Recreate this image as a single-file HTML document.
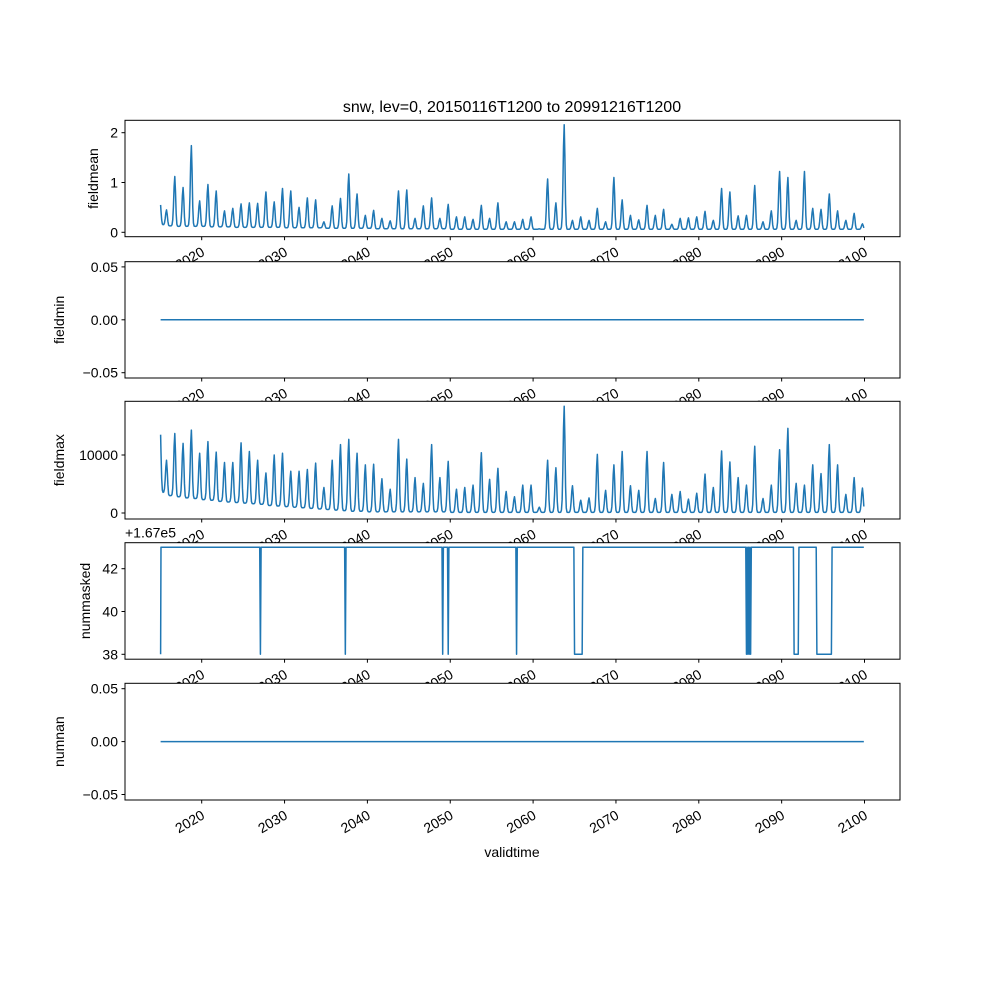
<!DOCTYPE html>
<html><head><meta charset="utf-8"><title>snw chart</title>
<style>
html,body{margin:0;padding:0;background:#fff;}
svg{display:block;font-family:"Liberation Sans","DejaVu Sans",sans-serif;}
</style></head>
<body>
<svg id="chart" width="1000" height="1000" viewBox="0 0 1000 1000">
<rect x="0" y="0" width="1000" height="1000" fill="#fff"/>
<text x="512" y="112" text-anchor="middle" font-size="16" fill="#000">snw, lev=0, 20150116T1200 to 20991216T1200</text>
<g id="panels"></g>
<text x="512" y="857" text-anchor="middle" font-size="14" fill="#000">validtime</text>
</svg>
<script>
// ---- data ----
const xTickYears = [2020, 2030, 2040, 2050, 2060, 2070, 2080, 2090, 2100];
// seasonal peak of fieldmean, season 2014 (start value) then 2015..2099
const meanPeaks = [0.55, 0.45,
 1.12,0.90,1.74,0.63,0.96,0.83,0.43,0.48,0.57,0.59,0.58,0.81,0.61,0.88,0.83,0.50,0.69,0.65,0.21,0.53,
 0.68,1.17,0.77,0.34,0.44,0.28,0.23,0.83,0.85,0.28,0.53,0.69,0.28,0.56,0.31,0.31,0.26,0.54,0.28,0.59,
 0.21,
 0.21,0.26,0.31,0.07,1.07,0.59,2.16,0.24,0.31,0.24,0.48,0.21,1.10,0.65,0.34,0.25,0.54,0.34,0.46,0.16,
 0.28,0.29,0.31,0.42,0.24,0.88,0.81,0.33,0.34,0.94,0.21,0.43,1.22,1.10,0.24,1.22,0.48,0.46,0.77,0.43,
 0.24,0.38,0.17];
// seasonal peak of fieldmax (thousands), season 2014 then 2015..2099
const maxPeaks = [13.5, 9.1,
 13.7,12.0,14.3,10.3,12.3,10.5,8.7,8.7,12.1,10.6,9.1,6.9,10.0,10.3,7.2,7.2,7.5,8.6,4.4,9.1,
 11.8,12.7,10.3,8.3,8.4,5.9,4.1,12.7,9.3,6.1,5.1,11.8,6.1,8.9,4.1,4.4,4.8,10.4,5.8,7.7,
 3.7,2.8,4.8,4.8,1.0,9.1,7.8,18.4,4.7,2.2,2.6,10.1,3.9,8.3,10.6,4.7,3.9,10.6,2.5,8.7,
 3.2,3.7,2.4,3.4,6.7,4.4,10.7,8.8,6.1,4.8,11.5,2.5,4.8,10.9,14.6,5.1,4.8,8.3,6.8,11.8,
 8.3,3.2,6.1,4.3];
// yearly background minimum of fieldmax (thousands), 2015..2099
const maxMins = [3.5,3.0,2.8,2.6,2.5,2.3,2.2,2.0,1.9,1.8,1.7,1.6,1.5,1.3,1.2,1.1,1.0,0.9,0.8,0.7,
 0.6,0.5,0.4,0.3,0.3,0.2,0.2,0.2,0.2,0.2,0.2,0.2,0.2,0.2,0.2,0.1,0.1,0.1,0.1,0.1,
 0.1,0.1,0.1,0.1,0.1,0.1,0.1,0.1,0.1,0.1,0.1,0.1,0.1,0.1,0.1,0.1,0.1,0.1,0.1,0.1,
 0.1,0.1,0.1,0.1,0.1,0.1,0.1,0.1,0.1,0.1,0.1,0.1,0.1,0.1,0.1,0.1,0.1,0.1,0.1,0.1,
 0.1,0.1,0.1,0.1,0.1];
// yearly background minimum of fieldmean, 2015..2099
const meanMins = [0.15,0.13,0.12,0.12,0.12,0.12,0.11,0.11,0.11,0.1,0.1,0.1,0.1,0.1,0.1,0.09,0.09,0.09,0.09,0.09,
 0.08,0.08,0.08,0.08,0.08,0.08,0.07,0.07,0.07,0.07,0.07,0.07,0.07,0.07,0.07,0.06,0.06,0.06,0.06,0.06,
 0.06,0.06,0.06,0.06,0.06,0.06,0.06,0.06,0.06,0.06,0.06,0.06,0.06,0.06,0.06,0.06,0.06,0.06,0.06,0.06,
 0.06,0.06,0.06,0.06,0.06,0.06,0.06,0.06,0.06,0.06,0.06,0.06,0.06,0.06,0.06,0.06,0.06,0.06,0.06,0.06,
 0.06,0.06,0.06,0.06,0.06];
// month indices (0 = Jan 2015) where nummasked = 167038, otherwise 167043
const maskedLowMonths = [0,145,268,409,417,516,600,601,602,603,604,605,606,607,608,609,610,611,
 849,851,853,855,918,919,920,921,922,923,924,
 951,952,953,954,955,956,957,958,959,960,961,962,963,964,965,966,967,968,969,970,971,972];
const maskedHigh = 43, maskedLow = 38;
const nMonths = 1020;

// ---- scales ----
const L = 125, R = 900;
function xs(t){ return 201.7 + (t - 2020) * 8.285; }
function monthTime(i){ return 2015 + (i + 0.5) / 12; }
function peakTime(s){ return s === 0 ? 2015.04 : 2014 + s + 0.79; }
function seasonalValue(peaks, mins, i){
  const t = i === 0 ? 2015.04 : monthTime(i);
  const yr = Math.min(mins.length - 1, Math.floor(t - 2015));
  const base = mins[yr];
  let v = base;
  for (let s = 0; s < peaks.length; s++){
    const dt = t - peakTime(s);
    if (Math.abs(dt) > 0.6) continue;
    const sig = dt < 0 ? 0.12 : 0.1;
    v += Math.max(0, peaks[s] - base) * Math.exp(-0.5 * (dt / sig) * (dt / sig));
  }
  return v;
}

const NS = 'http://www.w3.org/2000/svg';
const root = document.getElementById('panels');
function el(tag, attrs, parent){
  const e = document.createElementNS(NS, tag);
  for (const k in attrs) e.setAttribute(k, attrs[k]);
  (parent || root).appendChild(e);
  return e;
}

const panels = [
  {name:'fieldmean', top:120.3, bottom:236.7, y:v=>232.3 - v*49.8, ticks:[0,1,2], labels:['0','1','2'], label:'fieldmean', lx:98},
  {name:'fieldmin', top:261.7, bottom:378, y:v=>319.8 - v*(58.2/0.055), ticks:[-0.05,0,0.05], labels:['−0.05','0.00','0.05'], label:'fieldmin', lx:64},
  {name:'fieldmax', top:401.3, bottom:519, y:v=>513 - v*5.8, ticks:[0,10],labels:['0','10000'], label:'fieldmax', lx:64},
  {name:'nummasked', top:542.7, bottom:659.2, y:v=>654.3 - (v-38)*21.4, ticks:[38,40,42], labels:['38','40','42'], label:'nummasked', lx:90},
  {name:'numnan', top:683.3, bottom:800, y:v=>741.6 - v*(58.2/0.055), ticks:[-0.05,0,0.05], labels:['−0.05','0.00','0.05'], label:'numnan', lx:64}
];

function seriesValues(p){
  const vals = [];
  for (let i = 0; i < nMonths; i++){
    if (p.name === 'fieldmean') vals.push(seasonalValue(meanPeaks, meanMins, i));
    else if (p.name === 'fieldmax') vals.push(seasonalValue(maxPeaks, maxMins, i));
    else if (p.name === 'nummasked') vals.push(maskedLowMonths.indexOf(i) >= 0 ? maskedLow : maskedHigh);
    else vals.push(0);
  }
  return vals;
}

panels.forEach((p, idx) => {
  const g = el('g', {});
  
  
  const bg = el('rect', {x:L, y:p.top, width:R-L, height:p.bottom-p.top, fill:'#fff'}, g);
  
  
  const vals = seriesValues(p);
  let d = '';
  vals.forEach((v, i) => {
    const t = i === 0 ? 2015.04 : 2015 + (i + 0.04) / 12;
    d += (i ? 'L' : 'M') + xs(t).toFixed(2) + ',' + p.y(v).toFixed(2);
  });
  const line = el('path', {d:d, fill:'none', stroke:'#1f77b4', 'stroke-width':1.5, 'stroke-linejoin':'round'}, g);
  
  
  const fr = el('rect', {x:L, y:p.top, width:R-L, height:p.bottom-p.top, fill:'none', stroke:'#000', 'stroke-width':1}, g);
  
  
  p.ticks.forEach((tv, k) => {
    const yy = p.y(tv);
    const tk = el('line', {x1:L-3.5, x2:L, y1:yy, y2:yy, stroke:'#000', 'stroke-width':1}, g);
    
    
    const tl = el('text', {x:L-7, y:yy+5, 'text-anchor':'end', 'font-size':14, fill:'#000'}, g);
    tl.textContent = p.labels[k];
    
    
  });
  const cy = (p.top + p.bottom) / 2;
  const yl = el('text', {x:p.lx, y:cy, 'text-anchor':'middle', 'font-size':14, fill:'#000', transform:'rotate(-90 '+p.lx+' '+cy+')'}, g);
  yl.textContent = p.label;
  
  
  xTickYears.forEach(yr => {
    const xx = xs(yr);
    const tk = el('line', {x1:xx, x2:xx, y1:p.bottom, y2:p.bottom+3.5, stroke:'#000', 'stroke-width':1}, g);
    
    
    const ty = p.bottom + 18;
    const tl = el('text', {x:xx+4, y:ty, 'text-anchor':'end', 'font-size':14, fill:'#000', transform:'rotate(-30 '+(xx+4)+' '+ty+')'}, g);
    tl.textContent = String(yr);
    
    
  });
  if (p.name === 'nummasked'){
    const off = el('text', {x:L, y:p.top-5, 'font-size':14, fill:'#000'}, g);
    off.textContent = '+1.67e5';
    
    
  }
});
</script>
</body></html>
